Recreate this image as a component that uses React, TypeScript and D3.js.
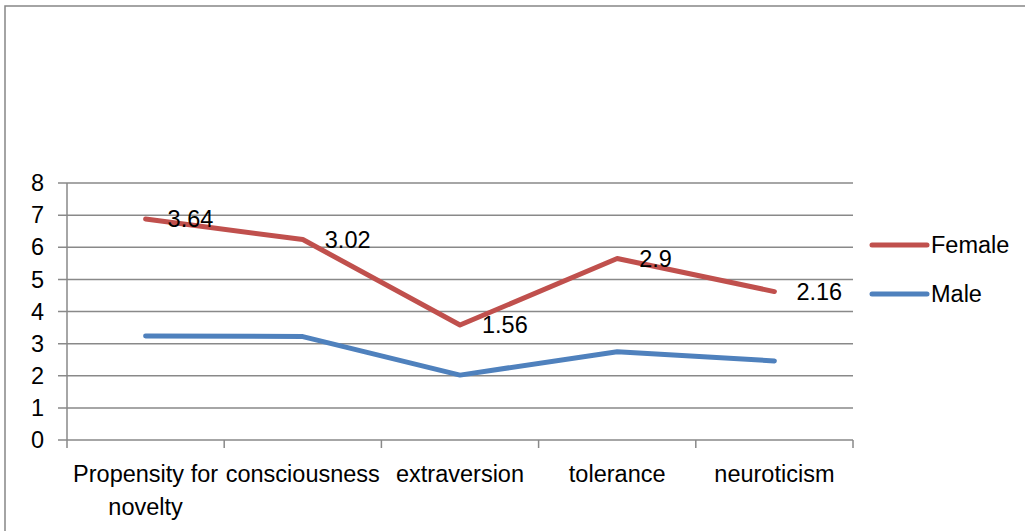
import React from "react";
import * as d3 from "d3";

const categories = ["Propensity for novelty", "consciousness", "extraversion", "tolerance", "neuroticism"];
const maleValues = [3.24, 3.22, 2.02, 2.75, 2.46];
const femaleValues = [3.64, 3.02, 1.56, 2.9, 2.16];
const yTicks = [0, 1, 2, 3, 4, 5, 6, 7, 8];
const seriesNames = ["Female", "Male"];
const seriesColors = ["#C0504D", "#4F81BD"];

const W = 1025;
const H = 531;
const FONT = "'Liberation Sans', Arial, sans-serif";
const FS = 23.5;

function wrap(text: string, maxW: number): string[] {
  const canvas = document.createElement("canvas");
  const ctx = canvas.getContext("2d")!;
  ctx.font = `${FS}px ${FONT}`;
  const words = text.split(" ");
  const lines: string[] = [];
  let cur = "";
  for (const w of words) {
    const t = cur ? cur + " " + w : w;
    if (ctx.measureText(t).width > maxW && cur) {
      lines.push(cur);
      cur = w;
    } else cur = t;
  }
  if (cur) lines.push(cur);
  return lines;
}

export default function App() {
  const left = 67, right = 853, top = 183, bottom = 440;
  const x = d3.scaleBand<string>().domain(categories).range([left, right]).padding(0);
  const y = d3.scaleLinear().domain([0, 8]).range([bottom, top]);
  const cx = (c: string) => (x(c) as number) + x.bandwidth() / 2;

  const femaleStacked = femaleValues.map((v, i) => v + maleValues[i]);
  const line = d3
    .line<[string, number]>()
    .x((d) => cx(d[0]))
    .y((d) => y(d[1]));
  const femaleData = categories.map((c, i) => [c, femaleStacked[i]] as [string, number]);
  const maleData = categories.map((c, i) => [c, maleValues[i]] as [string, number]);

  const boundaries = [...categories.map((c) => x(c) as number), right];
  const grid = "#898989";

  return (
    <svg
      width={W}
      height={H}
      style={{ position: "absolute", left: 0, top: 0, background: "#fff" }}
      fontFamily={FONT}
    >
      <rect x={5} y={6} width={W + 10} height={H + 10} fill="#fff" stroke="#868686" strokeWidth={1.5} />
      {yTicks.map((t) => (
        <g key={t}>
          <line x1={left - 9} x2={right} y1={y(t)} y2={y(t)} stroke={grid} strokeWidth={1.5} />
          <text x={44} y={y(t)} dy="0.35em" textAnchor="end" fontSize={FS} fill="#000">
            {t}
          </text>
        </g>
      ))}
      <line x1={left} x2={left} y1={top} y2={bottom} stroke={grid} strokeWidth={1.5} />
      {boundaries.map((b, i) => (
        <line key={i} x1={b} x2={b} y1={bottom} y2={bottom + 8} stroke={grid} strokeWidth={1.5} />
      ))}
      {categories.map((c) => {
        const lines = wrap(c, x.bandwidth());
        return (
          <text key={c} x={cx(c)} y={482} textAnchor="middle" fontSize={FS} fill="#000">
            {lines.map((l, i) => (
              <tspan key={i} x={cx(c)} dy={i === 0 ? 0 : 33}>
                {l}
              </tspan>
            ))}
          </text>
        );
      })}
      <path d={line(maleData) || ""} fill="none" stroke={seriesColors[1]} strokeWidth={5} strokeLinecap="round" strokeLinejoin="round" />
      <path d={line(femaleData) || ""} fill="none" stroke={seriesColors[0]} strokeWidth={5} strokeLinecap="round" strokeLinejoin="round" />
      {categories.map((c, i) => (
        <text key={c} x={cx(c) + 22} y={y(femaleStacked[i])} dy="0.35em" fontSize={FS} fill="#000">
          {femaleValues[i]}
        </text>
      ))}
      {seriesNames.map((n, i) => (
        <g key={n}>
          <line x1={872} x2={927} y1={245 + i * 49} y2={245 + i * 49} stroke={seriesColors[i]} strokeWidth={5} strokeLinecap="round" />
          <text x={931} y={245 + i * 49} dy="0.35em" fontSize={FS} fill="#000">
            {n}
          </text>
        </g>
      ))}
    </svg>
  );
}
